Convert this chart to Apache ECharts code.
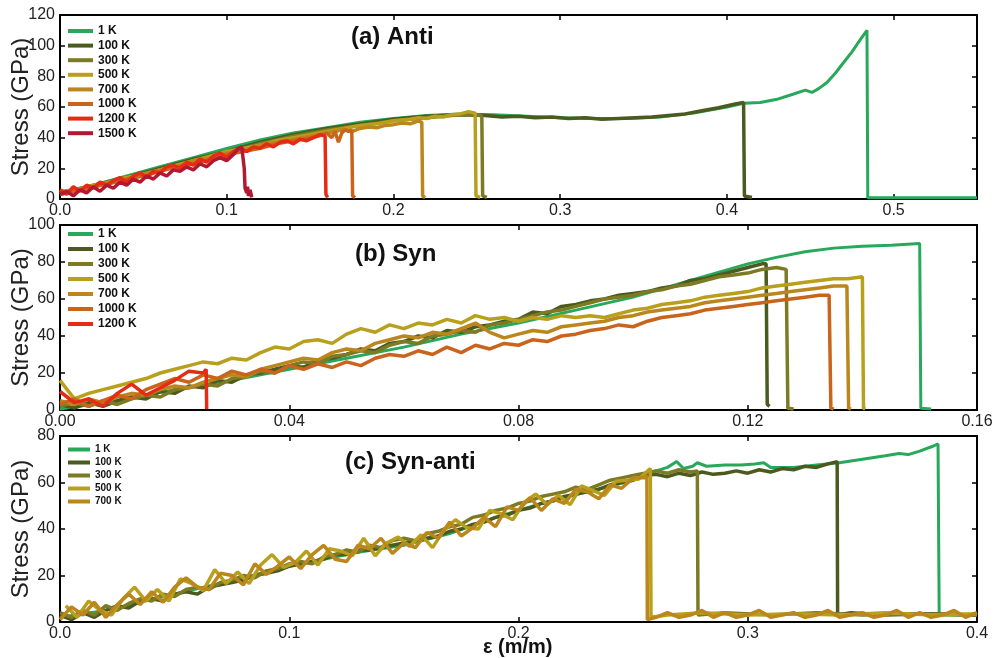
<!DOCTYPE html>
<html><head><meta charset="utf-8">
<script src="https://cdn.jsdelivr.net/npm/echarts@6/dist/echarts.min.js"></script>
<style>html,body{margin:0;padding:0;background:#fff;}#chart{width:993px;height:658px;}</style>
</head><body><div id="chart"></div>
<script>
const FONT = '"Liberation Sans", Arial, Helvetica, sans-serif';

// ---------- names / colours ----------
const namesA = ['1 K','100 K','300 K','500 K','700 K','1000 K','1200 K','1500 K'];
const namesB = ['1 K','100 K','300 K','500 K','700 K','1000 K','1200 K'];
const namesC = ['1 K','100 K','300 K','500 K','700 K'];
const COLORS = {'1 K':'#27a85a','100 K':'#4b5a1e','300 K':'#7d7a24','500 K':'#b9a01c',
  '700 K':'#bb861c','1000 K':'#c8641c','1200 K':'#e62a14','1500 K':'#b41830'};

// ---------- tick labels ----------
const ticksXA = [0,0.1,0.2,0.3,0.4,0.5];
const ticksXB = [0,0.04,0.08,0.12,0.16];
const ticksXC = [0,0.1,0.2,0.3,0.4];

// ---------- panel (a) Anti : strain (m/m), stress (GPa) ----------
const anti_1K = [[0,4],[0.02,9],[0.04,15],[0.06,21],[0.08,27],[0.1,33],[0.12,38.5],[0.14,43],[0.16,46.5],[0.18,50],[0.2,52.5],[0.22,54.5],[0.24,55.5],[0.26,55],[0.28,54],[0.3,53],[0.32,52.5],[0.34,52.5],[0.36,53.5],[0.38,56],[0.4,60],[0.41,62.5],[0.42,63],[0.43,65],[0.44,68.5],[0.447,71],[0.451,69.5],[0.455,72],[0.46,76],[0.465,82],[0.47,89],[0.475,96],[0.48,104],[0.484,110],[0.4845,0.8],[0.55,0.8]];
const anti_100K = [[0,3],[0.02,8],[0.04,14],[0.06,20],[0.08,26],[0.1,31],[0.12,37],[0.14,42],[0.16,46],[0.18,49],[0.2,52],[0.22,54],[0.24,55],[0.255,54.5],[0.265,53.5],[0.275,54],[0.285,53],[0.295,53.5],[0.305,52.5],[0.315,53],[0.325,52],[0.335,52.5],[0.345,53],[0.355,53.5],[0.365,54.5],[0.375,55.5],[0.385,57.5],[0.395,59.5],[0.405,62],[0.41,63],[0.4105,2],[0.411,0.8],[0.415,1]];
const anti_300K = [[0,4],[0.02,9],[0.04,14],[0.06,19],[0.08,25],[0.1,30],[0.12,36],[0.14,41],[0.16,45],[0.18,48],[0.2,51],[0.21,52],[0.22,53],[0.23,54],[0.24,55],[0.25,55],[0.253,54],[0.2535,2],[0.256,1]];
const anti_500K = [[0,5],[0.01,6],[0.02,9],[0.03,11],[0.04,14],[0.05,16],[0.06,19],[0.07,22],[0.08,25],[0.09,28],[0.1,31],[0.11,33],[0.12,35],[0.13,38],[0.14,40],[0.15,42],[0.16,44],[0.17,46],[0.18,48],[0.19,49],[0.2,51],[0.21,52],[0.215,53],[0.22,52.5],[0.225,54],[0.23,53.5],[0.235,55],[0.24,55.5],[0.245,57],[0.249,56],[0.2495,2],[0.252,1]];
const anti_700K = [[0,3],[0.01,6],[0.02,8],[0.03,11],[0.04,13],[0.05,16],[0.06,19],[0.07,21],[0.08,25],[0.09,27],[0.1,30],[0.11,32],[0.12,35],[0.13,37],[0.14,39],[0.15,41],[0.16,43],[0.165,44],[0.17,45.5],[0.175,44],[0.18,46],[0.185,47],[0.19,46.5],[0.195,48],[0.2,48.5],[0.205,49.5],[0.21,49],[0.215,51],[0.217,50],[0.2175,2],[0.219,1]];
const anti_1000K = [[0,3],[0.01,5],[0.02,8],[0.03,10],[0.04,13],[0.05,15],[0.06,18],[0.07,21],[0.08,23],[0.09,26],[0.1,29],[0.11,31],[0.12,33],[0.13,36],[0.14,38],[0.15,40],[0.155,41],[0.16,43],[0.163,40],[0.165,44],[0.167,37],[0.169,43],[0.171,45],[0.173,44],[0.175,45],[0.1755,2],[0.177,1]];
const anti_1200K_y = [6,3,8,5,9,7,11,9,12,14,11,15,17,14,18,17,21,22,20,24,22,26,24,28,30,27,31,33,31,34,33,36,34,37,38,36,39,38,40,42]; // strain step 0.004
const anti_1200K_end = [[0.159,41],[0.1595,3],[0.1605,1]];
const anti_1500K_y = [3,5,2,6,4,8,5,9,7,11,9,13,11,15,13,17,15,19,18,21,19,23,21,25,27,25,29]; // strain step 0.004
const anti_1500K_end = [[0.107,33],[0.109,34],[0.1105,20],[0.111,7],[0.112,4],[0.1125,8],[0.113,2],[0.114,6],[0.115,1]];

// ---------- panel (b) Syn ----------
const syn_1K = [[0,0.5],[0.01,5],[0.02,11],[0.03,16],[0.04,22],[0.05,28],[0.06,34],[0.07,41],[0.08,47],[0.09,54],[0.1,61],[0.11,70],[0.12,79],[0.125,82.5],[0.13,85.5],[0.135,87.5],[0.14,88.5],[0.145,89],[0.15,90],[0.1502,1],[0.1505,0.5],[0.152,0.5]];
const syn_100K_y = [3,1,4,2,5,7,6,10,9,13,12,16,15,19,20,22,24,23,27,28,30,33,32,36,37,40,39,43,42,45,46,48,49,53,52,56,57,59,60,62,63,64,66,67,70,71,73,75,77,79]; // step 0.0025
const syn_100K_end = [[0.1232,79],[0.1234,3],[0.1238,2]];
const syn_300K_y = [2,4,2,5,3,6,8,7,11,12,14,13,17,18,21,20,24,26,25,29,30,32,31,35,37,36,40,41,43,42,46,47,49,51,53,54,56,58,60,61,62,64,65,67,68,70,72,73,74,76,77];
const syn_300K_end = [[0.1267,76],[0.127,1],[0.128,0.5]];
const syn_500K_y = [16,6,9,11,13,15,17,20,22,24,26,25,28,27,31,34,33,37,38,36,41,44,42,46,44,47,46,49,47,51,49,50,48,50,49,51,50,51,50,52,54,55,57,58,59,61,62,63,64,66,67,68,69,70,71,71];
const syn_500K_end = [[0.14,72],[0.1402,1],[0.1405,0.5]];
const syn_700K_y = [5,3,6,4,7,9,8,11,13,12,15,17,19,18,22,24,26,28,27,31,33,32,36,38,40,39,42,41,44,47,42,39,41,43,42,45,46,47,48,50,51,53,54,55,56,58,59,60,61,62,63,64,65,66,67];
const syn_700K_end = [[0.1373,67],[0.1376,1],[0.138,0.5]];
const syn_1000K_y = [3,6,2,5,8,6,11,14,17,15,19,17,21,19,22,20,24,22,25,23,26,24,28,30,29,32,30,34,31,35,33,36,35,38,37,40,41,43,44,46,45,48,50,51,52,54,55,56,57,58,59,60,61,62];
const syn_1000K_end = [[0.1342,62],[0.1345,1],[0.135,0.5]];
const syn_1200K_y = [10,4,6,2,9,14,8,12,16,21,20];
const syn_1200K_end = [[0.0255,22],[0.0256,0.5]];

// ---------- panel (c) Syn-anti ----------
const sa_1K = [[0,2],[0.02,5],[0.05,12],[0.08,19],[0.1,24],[0.13,30],[0.15,33],[0.17,38],[0.19,45],[0.21,51],[0.23,56],[0.25,61],[0.255,63],[0.26,65],[0.265,66.5],[0.269,69],[0.272,66],[0.276,67],[0.278,68.5],[0.282,67],[0.29,67.5],[0.297,67.5],[0.303,68],[0.307,68.5],[0.31,66.5],[0.32,66.5],[0.33,67.5],[0.34,68.5],[0.35,70],[0.36,71.5],[0.366,72.5],[0.37,72],[0.375,73.5],[0.381,75.7],[0.383,76.6],[0.3835,4],[0.384,3],[0.4,3]];
const sa_100K_y = [3,1,4,2,5,7,6,9,10,9,12,13,12,15,16,17,18,20,21,22,24,25,26,27,29,29,31,31,32,33,34,35,36,37,39,40,42,43,45,46,48,49,51,52,54,55,56,57,59,60,61]; // step 0.005
const sa_100K_end = [[0.255,63],[0.26,63.5],[0.265,62.5],[0.27,64],[0.275,63],[0.28,64.5],[0.285,63.5],[0.29,64],[0.295,65],[0.3,64],[0.305,65.5],[0.31,64.5],[0.315,66],[0.32,65.5],[0.325,67],[0.33,66.5],[0.335,68],[0.339,69],[0.3392,3],[0.345,4],[0.36,3],[0.38,3.5],[0.4,3]];
const sa_300K_y = [4,2,5,3,7,5,8,10,9,12,11,14,15,14,17,18,20,19,22,23,25,26,25,28,29,31,30,33,32,35,36,35,38,39,41,42,45,46,48,49,51,52,54,55,56,58,57,59,61,62,63];
const sa_300K_end = [[0.255,64],[0.26,65],[0.265,64],[0.27,65.5],[0.275,64.5],[0.278,65],[0.2783,3],[0.29,4],[0.31,3],[0.33,4],[0.35,3],[0.37,3.5],[0.4,3]];
const sa_500K_y = [7,2,9,5,3,10,15,9,14,9,18.5,16.5,13.5,22.5,16.5,21.5,16.5,24.5,29,23.5,25.5,30.5,24.5,31.5,30.5,28.5,36,28.5,34,36.5,32.5,37.5,32,39.5,44,40.5,40,48,46.5,44,51.5,55,50.5,54.5,50.5,58.5,56.5,54.5,60.5,61,61.5,66]; // strain 0.0025..0.2575 step 0.005
const sa_500K_end = [[0.2578,2],[0.265,3],[0.28,4],[0.3,3],[0.32,3.5],[0.34,3],[0.36,4],[0.38,3],[0.4,3.5]];
const sa_700K_y = [1,6.5,3,8.5,2,7.5,12,7.5,13,8.5,15,19,15,14,21,20,16,25,20.5,24,28,23,29,33,27,26,33,31.5,36,29.5,34,32,38.5,36,43,37,40.5,45,41,49.5,48,53.5,48,53,51,57,56,53,59,57.5,62,62];
const sa_700K_drop = [[0.256,63],[0.2562,1]];
const sa_700K_after_y = [2,4,2,3,5,2,4,2,3,5,2,3,4,2,3,5,2,3,4,2,3,5,2,4,2,3,5,2,4]; // strain 0.26..0.40 step 0.005

function onGrid(step, ys, x0) {
  x0 = x0 || 0;
  return ys.map((y, i) => [+(x0 + i * step).toFixed(5), y]);
}

const panelA = {
  '1 K': anti_1K, '100 K': anti_100K, '300 K': anti_300K, '500 K': anti_500K,
  '700 K': anti_700K, '1000 K': anti_1000K,
  '1200 K': onGrid(0.004, anti_1200K_y).concat(anti_1200K_end),
  '1500 K': onGrid(0.004, anti_1500K_y).concat(anti_1500K_end)
};
const panelB = {
  '1 K': syn_1K,
  '100 K': onGrid(0.0025, syn_100K_y).concat(syn_100K_end),
  '300 K': onGrid(0.0025, syn_300K_y).concat(syn_300K_end),
  '500 K': onGrid(0.0025, syn_500K_y).concat(syn_500K_end),
  '700 K': onGrid(0.0025, syn_700K_y).concat(syn_700K_end),
  '1000 K': onGrid(0.0025, syn_1000K_y).concat(syn_1000K_end),
  '1200 K': onGrid(0.0025, syn_1200K_y).concat(syn_1200K_end)
};
const panelC = {
  '1 K': sa_1K,
  '100 K': onGrid(0.005, sa_100K_y).concat(sa_100K_end),
  '300 K': onGrid(0.005, sa_300K_y).concat(sa_300K_end),
  '500 K': onGrid(0.005, sa_500K_y, 0.0025).concat(sa_500K_end),
  '700 K': onGrid(0.005, sa_700K_y).concat(sa_700K_drop, onGrid(0.005, sa_700K_after_y, 0.26))
};

const grids = [
  {left: 60, top: 15, width: 917, height: 184, containLabel: false, outerBoundsMode: 'none'},
  {left: 60, top: 225, width: 917, height: 185, containLabel: false, outerBoundsMode: 'none'},
  {left: 60, top: 436, width: 917, height: 186, containLabel: false, outerBoundsMode: 'none'}
];
const xSpec = [{max: 0.55, interval: 0.1, dec: 1}, {max: 0.16, interval: 0.04, dec: 2}, {max: 0.4, interval: 0.1, dec: 1}];
const ySpec = [{max: 120}, {max: 100}, {max: 80}];

const xAxes = [], yAxes = [];
grids.forEach((g, i) => {
  const common = {type: 'value', gridIndex: i, min: 0, max: xSpec[i].max, interval: xSpec[i].interval,
    splitLine: {show: false}, axisLine: {show: true, onZero: false, lineStyle: {color: '#000', width: 2}},
    axisTick: {show: true, inside: true, length: 5, lineStyle: {color: '#000', width: 1.5}}};
  xAxes.push(Object.assign({}, common, {position: 'bottom',
    axisLabel: {show: true, margin: 4, fontSize: 16, fontFamily: FONT, color: '#222', showMaxLabel: i !== 0,
      formatter: v => (+v).toFixed(xSpec[i].dec)}}));
  xAxes.push(Object.assign({}, common, {position: 'top', axisLabel: {show: false}}));
  const ycommon = {type: 'value', gridIndex: i, min: 0, max: ySpec[i].max, interval: 20,
    splitLine: {show: false}, axisLine: {show: true, onZero: false, lineStyle: {color: '#000', width: 2}},
    axisTick: {show: true, inside: true, length: 5, lineStyle: {color: '#000', width: 1.5}}};
  yAxes.push(Object.assign({}, ycommon, {position: 'left',
    name: 'Stress (GPa)', nameLocation: 'middle', nameGap: 27, nameMoveOverlap: false, nameTruncate: {maxWidth: 400},
    nameTextStyle: {fontSize: 24, fontFamily: FONT, color: '#222'},
    axisLabel: {show: true, margin: 5, fontSize: 16, fontFamily: FONT, color: '#222'}}));
  yAxes.push(Object.assign({}, ycommon, {position: 'right', axisLabel: {show: false}}));
});

const series = [];
[[panelA, namesA], [panelB, namesB], [panelC, namesC]].forEach(([panel, names], p) => {
  names.forEach((n, k) => {
    series.push({type: 'line', name: n, data: panel[n], xAxisIndex: p * 2, yAxisIndex: p * 2,
      symbol: 'none', showSymbol: false, color: COLORS[n], z: 2 + k,
      lineStyle: {width: n === '1 K' ? 3 : 3.5, color: COLORS[n]}, itemStyle: {color: COLORS[n]},
      emphasis: {disabled: true}, animation: false, clip: true});
  });
});

function legendFor(names, top, fs, lh, gap, w) {
  return {data: names, orient: 'vertical', left: 68, top: top, itemWidth: w, itemHeight: 4, itemGap: gap,
    icon: 'rect', selectedMode: false, padding: 0,
    textStyle: {fontSize: fs, fontWeight: 'bold', fontFamily: FONT, color: '#111', lineHeight: lh}};
}

const titleStyle = {fontSize: 24, fontWeight: 'bold', fontFamily: FONT, color: '#111'};
const option = {
  backgroundColor: '#fff',
  animation: false,
  grid: grids,
  xAxis: xAxes,
  yAxis: yAxes,
  legend: [legendFor(namesA, 25, 12, 12, 2.6, 25), legendFor(namesB, 228, 12, 12, 3, 25), legendFor(namesC, 444, 10, 11, 2, 22)],
  title: [
    {text: '(a) Anti', left: 351, top: 25, padding: 0, textStyle: titleStyle},
    {text: '(b) Syn', left: 355, top: 242, padding: 0, textStyle: titleStyle},
    {text: '(c) Syn-anti', left: 345, top: 450, padding: 0, textStyle: titleStyle}
  ],
  graphic: [{type: 'text', left: 483, top: 637, style: {text: 'ε (m/m)', font: 'bold 20px ' + FONT, fill: '#111'}}],
  series: series
};
const chart = echarts.init(document.getElementById('chart'), null, {renderer: 'canvas'});
chart.setOption(option);
</script></body></html>
